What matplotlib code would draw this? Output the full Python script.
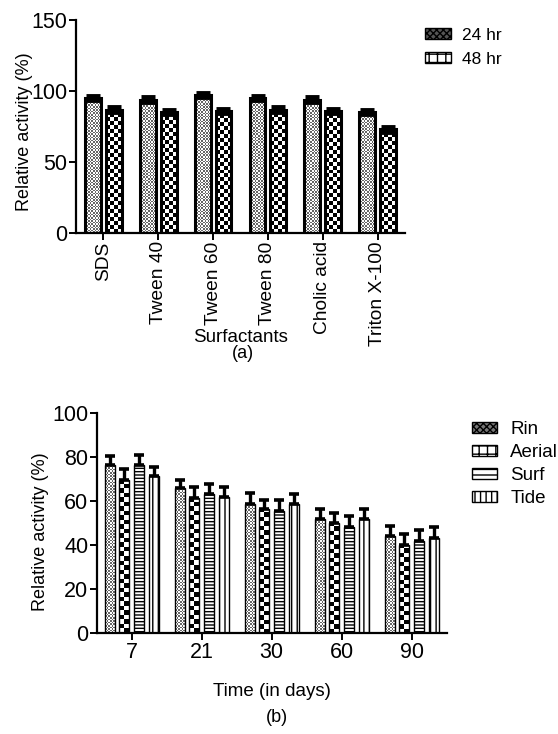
import numpy as np
import matplotlib
matplotlib.use('Agg')
import matplotlib.pyplot as plt
from matplotlib.patches import Patch

plt.rcParams['font.family'] = ['Liberation Sans', 'DejaVu Sans']
plt.rcParams['hatch.linewidth'] = 1.0

# (a) surfactants
surfactants = ['SDS', 'Tween 40', 'Tween 60', 'Tween 80', 'Cholic acid', 'Triton X-100']
act_24 = [95, 94, 97, 95, 94, 85]
act_48 = [87, 85, 86, 87, 86, 73]
err_24 = [1.5, 1.5, 1.5, 1.5, 1.5, 1.5]
err_48 = [1.5, 1.5, 1.5, 1.5, 1.5, 2]

# (b) detergents over time
days = ['7', '21', '30', '60', '90']
rin = [76.5, 66, 58.5, 52, 44]
aerial = [69.5, 61.5, 56.5, 50, 40]
surf = [76.5, 63, 55.5, 48, 42]
tide = [71.5, 62, 58.5, 52, 43]
rin_err = [4, 3.5, 5, 4.5, 4.5]
aerial_err = [5, 5, 4, 4.5, 5]
surf_err = [4.5, 4.5, 5, 5, 5]
tide_err = [4, 4.5, 4.5, 4.5, 5]

fig = plt.figure(figsize=(5.58, 7.34), dpi=100)


def style(ax):
    for s in ['top', 'right']:
        ax.spines[s].set_visible(False)
    for s in ['left', 'bottom']:
        ax.spines[s].set_linewidth(1.6)
    ax.tick_params(width=1.4, length=5, labelsize=15.5, pad=1)


def checker(ax, bars, cell, dark):
    # checkerboard fill for each bar, clipped to the bar
    cmap = matplotlib.colors.ListedColormap([(dark,) * 3, (1, 1, 1)])
    for r in bars:
        x0, y0 = r.get_x(), r.get_y()
        x1, y1 = x0 + r.get_width(), y0 + r.get_height()
        p0 = ax.transData.transform((x0, y0))
        p1 = ax.transData.transform((x1, y1))
        nc = max(1, int(round((p1[0] - p0[0]) / cell)))
        nr = max(1, int(round((p1[1] - p0[1]) / cell)))
        img = (np.add.outer(np.arange(nr), np.arange(nc)) % 2).astype(float)
        im = ax.imshow(img, extent=(x0, x1, y0, y1), cmap=cmap, vmin=0, vmax=1,
                       interpolation='nearest', aspect='auto', zorder=1.5)
        im.set_clip_path(r)


# ---- panel a
ax1 = fig.add_axes([0.136, 0.6826, 0.59, 0.29])
x = np.arange(len(surfactants))
w = 0.29
ax1.set_xlim(-0.5, 5.5)
ax1.set_ylim(0, 150)
b24 = ax1.bar(x - 0.19, act_24, w, facecolor='none', edgecolor='black',
              linewidth=2.2, zorder=2)
b48 = ax1.bar(x + 0.19, act_48, w, facecolor='none', edgecolor='black',
              linewidth=2.2, zorder=2)
checker(ax1, b24, 1.6, 0.4)
checker(ax1, b48, 4.0, 0.0)
ax1.errorbar(x - 0.19, act_24, yerr=err_24, fmt='none', ecolor='black',
             elinewidth=2, capsize=5, capthick=3.5, zorder=3)
ax1.errorbar(x + 0.19, act_48, yerr=err_48, fmt='none', ecolor='black',
             elinewidth=2, capsize=5, capthick=3.5, zorder=3)
ax1.set_xlim(-0.5, 5.5)
ax1.set_ylim(0, 150)
ax1.set_yticks([0, 50, 100, 150])
ax1.set_xticks(x)
ax1.set_xticklabels(surfactants, rotation=90)
ax1.set_ylabel('Relative activity (%)', fontsize=13)
ax1.yaxis.set_label_coords(-0.13, 0.475)
ax1.set_xlabel('Surfactants', fontsize=13.5)
ax1.xaxis.label.set_va('center')
ax1.xaxis.set_label_coords(0.5, -0.49)
style(ax1)
ax1.tick_params(axis='x', labelsize=13.8)
h1 = [Patch(facecolor='#555555', edgecolor='black', hatch='xxxxx', label='24 hr'),
      Patch(facecolor='white', edgecolor='black', hatch='++', label='48 hr')]
ax1.legend(handles=h1, loc='upper left', bbox_to_anchor=(0.762, 0.962),
           bbox_transform=fig.transFigure, frameon=False, borderpad=0,
           borderaxespad=0, fontsize=12.5, handlelength=1.5, handleheight=0.6,
           handletextpad=0.63, labelspacing=0.5)
fig.text(0.436, 0.519, '(a)', ha='center', va='center', fontsize=13)

# ---- panel b
ax2 = fig.add_axes([0.1733, 0.1372, 0.6272, 0.3005])
ax2.set_xlim(-0.5, 4.5)
ax2.set_ylim(0, 100)
x2 = np.arange(len(days))
bw = 0.14
off = [-0.315, -0.105, 0.105, 0.315]
series = [(rin, rin_err), (aerial, aerial_err), (surf, surf_err), (tide, tide_err)]
containers = []
for o, (vals, errs) in zip(off, series):
    bars = ax2.bar(x2 + o, vals, bw, facecolor='none', edgecolor='black',
                   linewidth=1.0, zorder=2)
    containers.append(bars)
    ax2.errorbar(x2 + o, vals, yerr=[np.zeros(len(errs)), errs], fmt='none',
                 ecolor='black', elinewidth=2.4, capsize=3.5, capthick=2.6,
                 zorder=3)
checker(ax2, containers[0], 1.6, 0.4)
checker(ax2, containers[1], 4.5, 0.0)
for r in containers[2]:
    r.set_hatch('-----')
for r in containers[3]:
    r.set_hatch('|||')
ax2.set_xlim(-0.5, 4.5)
ax2.set_ylim(0, 100)
ax2.set_yticks([0, 20, 40, 60, 80, 100])
ax2.set_xticks(x2)
ax2.set_xticklabels(days)
ax2.set_ylabel('Relative activity (%)', fontsize=13)
ax2.yaxis.set_label_coords(-0.136, 0.46)
ax2.set_xlabel('Time (in days)', fontsize=13.5)
ax2.xaxis.label.set_va('center')
ax2.xaxis.set_label_coords(0.5, -0.266)
style(ax2)
h2 = [Patch(facecolor='#777777', edgecolor='black', hatch='xxxxx', label='Rin'),
      Patch(facecolor='white', edgecolor='black', hatch='++', label='Aerial'),
      Patch(facecolor='white', edgecolor='black', hatch='---', label='Surf'),
      Patch(facecolor='white', edgecolor='black', hatch='|||', label='Tide')]
ax2.legend(handles=h2, loc='upper left', bbox_to_anchor=(0.846, 0.4265),
           bbox_transform=fig.transFigure, frameon=False, borderpad=0,
           borderaxespad=0, fontsize=13.5, handlelength=1.33, handleheight=0.55,
           handletextpad=0.7, labelspacing=0.32)
fig.text(0.497, 0.023, '(b)', ha='center', va='center', fontsize=13)

fig.savefig('out.png', dpi=100)
